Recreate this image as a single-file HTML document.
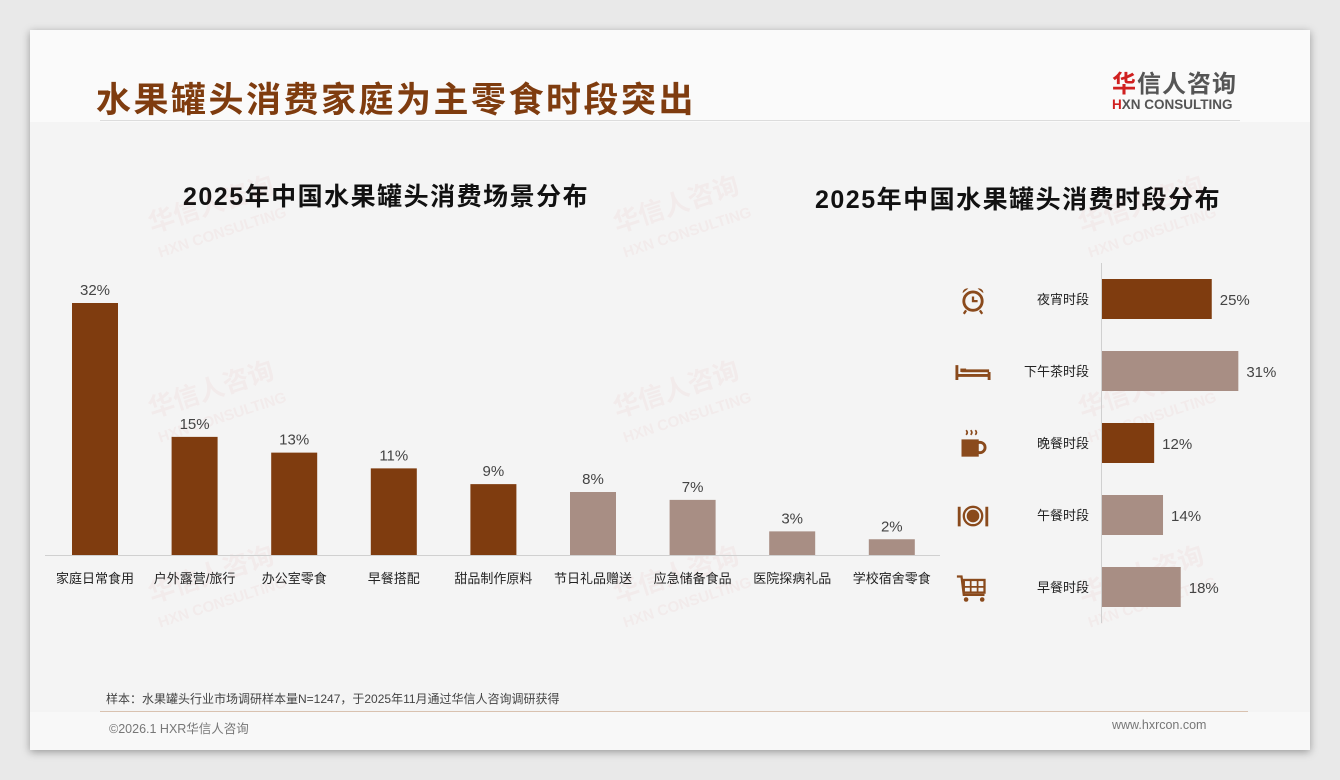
<!DOCTYPE html>
<html><head><meta charset="utf-8">
<style>
body{margin:0;width:1340px;height:780px;background:#e9e9e9;font-family:"Liberation Sans","Noto Sans CJK SC",sans-serif;overflow:hidden;position:relative}
#card{position:absolute;left:30px;top:30px;width:1280px;height:720px;background:#f4f4f4;box-shadow:0 2px 8px rgba(0,0,0,.35)}
.abs{position:absolute}
.wm{position:absolute;color:rgba(220,80,80,.05);font-weight:bold;transform:rotate(-18deg);line-height:1}
</style></head><body>
<div id="card">
 <div class="abs" style="left:0;top:0;width:1280px;height:92px;background:#fafafa"></div>
 <div class="abs" style="left:66px;top:42px;font-size:35px;font-weight:bold;color:#7f3c0f;letter-spacing:2.5px;white-space:nowrap">水果罐头消费家庭为主零食时段突出</div>
 <div class="abs" style="left:70px;top:90px;width:1140px;height:1px;background:#dcdcdc"></div>
 <div class="abs" style="left:1082px;top:34px;white-space:nowrap">
  <div style="font-size:24px;font-weight:bold;color:#555;letter-spacing:1px"><span style="color:#d02020">华</span>信人咨询</div>
  <div style="font-size:13.5px;font-weight:bold;color:#555;margin-top:-2px"><span style="color:#d02020">H</span>XN CONSULTING</div>
 </div>
 <div class="abs" style="left:153px;top:147px;font-size:25px;font-weight:bold;color:#111;letter-spacing:1.5px;white-space:nowrap">2025年中国水果罐头消费场景分布</div>
 <div class="abs" style="left:785px;top:150px;font-size:25px;font-weight:bold;color:#111;letter-spacing:1.5px;white-space:nowrap">2025年中国水果罐头消费时段分布</div>
 <div class="wm" style="left:120px;top:160px;font-size:26px">华信人咨询<br><span style="font-size:15px">HXN CONSULTING</span></div>
 <div class="wm" style="left:585px;top:160px;font-size:26px">华信人咨询<br><span style="font-size:15px">HXN CONSULTING</span></div>
 <div class="wm" style="left:1050px;top:160px;font-size:26px">华信人咨询<br><span style="font-size:15px">HXN CONSULTING</span></div>
 <div class="wm" style="left:120px;top:345px;font-size:26px">华信人咨询<br><span style="font-size:15px">HXN CONSULTING</span></div>
 <div class="wm" style="left:585px;top:345px;font-size:26px">华信人咨询<br><span style="font-size:15px">HXN CONSULTING</span></div>
 <div class="wm" style="left:1050px;top:345px;font-size:26px">华信人咨询<br><span style="font-size:15px">HXN CONSULTING</span></div>
 <div class="wm" style="left:120px;top:530px;font-size:26px">华信人咨询<br><span style="font-size:15px">HXN CONSULTING</span></div>
 <div class="wm" style="left:585px;top:530px;font-size:26px">华信人咨询<br><span style="font-size:15px">HXN CONSULTING</span></div>
 <div class="wm" style="left:1050px;top:530px;font-size:26px">华信人咨询<br><span style="font-size:15px">HXN CONSULTING</span></div>
 <div class="abs" style="left:76px;top:660px;font-size:12px;color:#444;white-space:nowrap">样本：水果罐头行业市场调研样本量N=1247，于2025年11月通过华信人咨询调研获得</div>
 <div class="abs" style="left:70px;top:681px;width:1148px;height:1px;background:#d9c2b0"></div>
 <div class="abs" style="left:0;top:682px;width:1280px;height:38px;background:#f8f8f8"></div>
 <div class="abs" style="left:79px;top:688px;font-size:12.5px;color:#777">©2026.1 HXR华信人咨询</div>
 <div class="abs" style="left:1082px;top:688px;font-size:12.5px;color:#777">www.hxrcon.com</div>
</div>
<svg id="chart" width="1340" height="780" style="position:absolute;left:0;top:0"></svg>
<script>
const sceneCats=["家庭日常食用","户外露营/旅行","办公室零食","早餐搭配","甜品制作原料","节日礼品赠送","应急储备食品","医院探病礼品","学校宿舍零食"];
const sceneVals=[32,15,13,11,9,8,7,3,2];
const sceneDark=[1,1,1,1,1,0,0,0,0];
const timeCats=["夜宵时段","下午茶时段","晚餐时段","午餐时段","早餐时段"];
const timeVals=[25,31,12,14,18];
const timeDark=[1,0,1,0,0];
const DARK="#7f3c0f",LIGHT="#a88e84";
const svg=document.getElementById('chart');
const NS="http://www.w3.org/2000/svg";
function mk(t,a,p){const e=document.createElementNS(NS,t);for(const k in a)e.setAttribute(k,a[k]);(p||svg).appendChild(e);return e;}
const base=555,pxPer=7.875,x0=95,step=99.6;
const ly=v=>base-v*pxPer, lx=i=>x0+i*step;
let ax=mk('line',{x1:45,x2:940,y1:base+0.5,y2:base+0.5,stroke:'#d0d0d0','stroke-width':1});


sceneCats.forEach((c,i)=>{
 const r=mk('rect',{x:lx(i)-23,y:ly(sceneVals[i]),width:46,height:base-ly(sceneVals[i]),fill:sceneDark[i]?DARK:LIGHT});
 
 
 const t=mk('text',{x:lx(i),y:ly(sceneVals[i])-8,'text-anchor':'middle','font-size':15,fill:'#444','font-family':'Liberation Sans, sans-serif'});
 t.textContent=sceneVals[i]+'%';
 
 
 const l=mk('text',{x:lx(i),y:583,'text-anchor':'middle','font-size':13,fill:'#222','font-family':'Liberation Sans, Noto Sans CJK SC, sans-serif'});
 l.textContent=c;
 
 
});
const rx0=1101,rPer=4.43,ry0=299,rstep=72;
const rx=v=>rx0+v*rPer, ry=i=>ry0+i*rstep;
let ay=mk('line',{x1:rx0+0.5,x2:rx0+0.5,y1:263,y2:623,stroke:'#d0d0d0','stroke-width':1});


const icons=[
 '<circle cx="0" cy="1" r="8" fill="none" stroke="#8a4a1c" stroke-width="2.5"/><path d="M0 -3 V1 H4" stroke="#8a4a1c" stroke-width="2" fill="none"/><path d="M-9 -6 a4 4 0 0 1 5 -4Z M9 -6 a4 4 0 0 0 -5 -4Z" fill="#8a4a1c"/><path d="M-6 9 l-2 3 M6 9 l2 3" stroke="#8a4a1c" stroke-width="2"/>',
 '<path d="M-14 -6 V7 M14 0 V7 M-14 3 H14 M-10 -1 H14" stroke="#8a4a1c" stroke-width="2.5" fill="none"/><rect x="-11" y="-3" width="5" height="3" fill="#8a4a1c"/>',
 '<rect x="-10" y="-4" width="15" height="15" fill="#8a4a1c"/><circle cx="6" cy="3" r="4.5" fill="none" stroke="#8a4a1c" stroke-width="2.5"/><path d="M-6 -12 q2 2 0 4 M-2 -12 q2 2 0 4 M2 -12 q2 2 0 4" stroke="#8a4a1c" stroke-width="1.5" fill="none"/>',
 '<circle cx="0" cy="0" r="8" fill="none" stroke="#8a4a1c" stroke-width="2"/><circle cx="0" cy="0" r="5.5" fill="#8a4a1c"/><path d="M-12 -8 V9 M12 -8 V9" stroke="#8a4a1c" stroke-width="2.5"/>',
 '<path d="M-14 -10 H-10 L-8 6 H10" stroke="#8a4a1c" stroke-width="2" fill="none"/><rect x="-8" y="-7" width="18" height="11" fill="none" stroke="#8a4a1c" stroke-width="2"/><path d="M-2 -7 V4 M4 -7 V4 M-8 -1 H10" stroke="#8a4a1c" stroke-width="1.5"/><circle cx="-6" cy="10" r="2" fill="#8a4a1c"/><circle cx="8" cy="10" r="2" fill="#8a4a1c"/>'
];
timeCats.forEach((c,i)=>{
 const r=mk('rect',{x:rx0+1,y:ry(i)-20,width:rx(timeVals[i])-rx0-1,height:40,fill:timeDark[i]?DARK:LIGHT});
 
 
 const t=mk('text',{x:rx(timeVals[i])+8,y:ry(i)+6,'font-size':15,fill:'#444','font-family':'Liberation Sans, sans-serif'});
 t.textContent=timeVals[i]+'%';
 
 
 const l=mk('text',{x:1089,y:ry(i)+5,'text-anchor':'end','font-size':13,fill:'#222','font-family':'Liberation Sans, Noto Sans CJK SC, sans-serif'});
 l.textContent=c;
 
 
 const g=mk('g',{transform:'translate(973,'+(ry(i)+1)+') scale(1.15)'});
 g.innerHTML=icons[i];
 
 
});
</script>
</body></html>
